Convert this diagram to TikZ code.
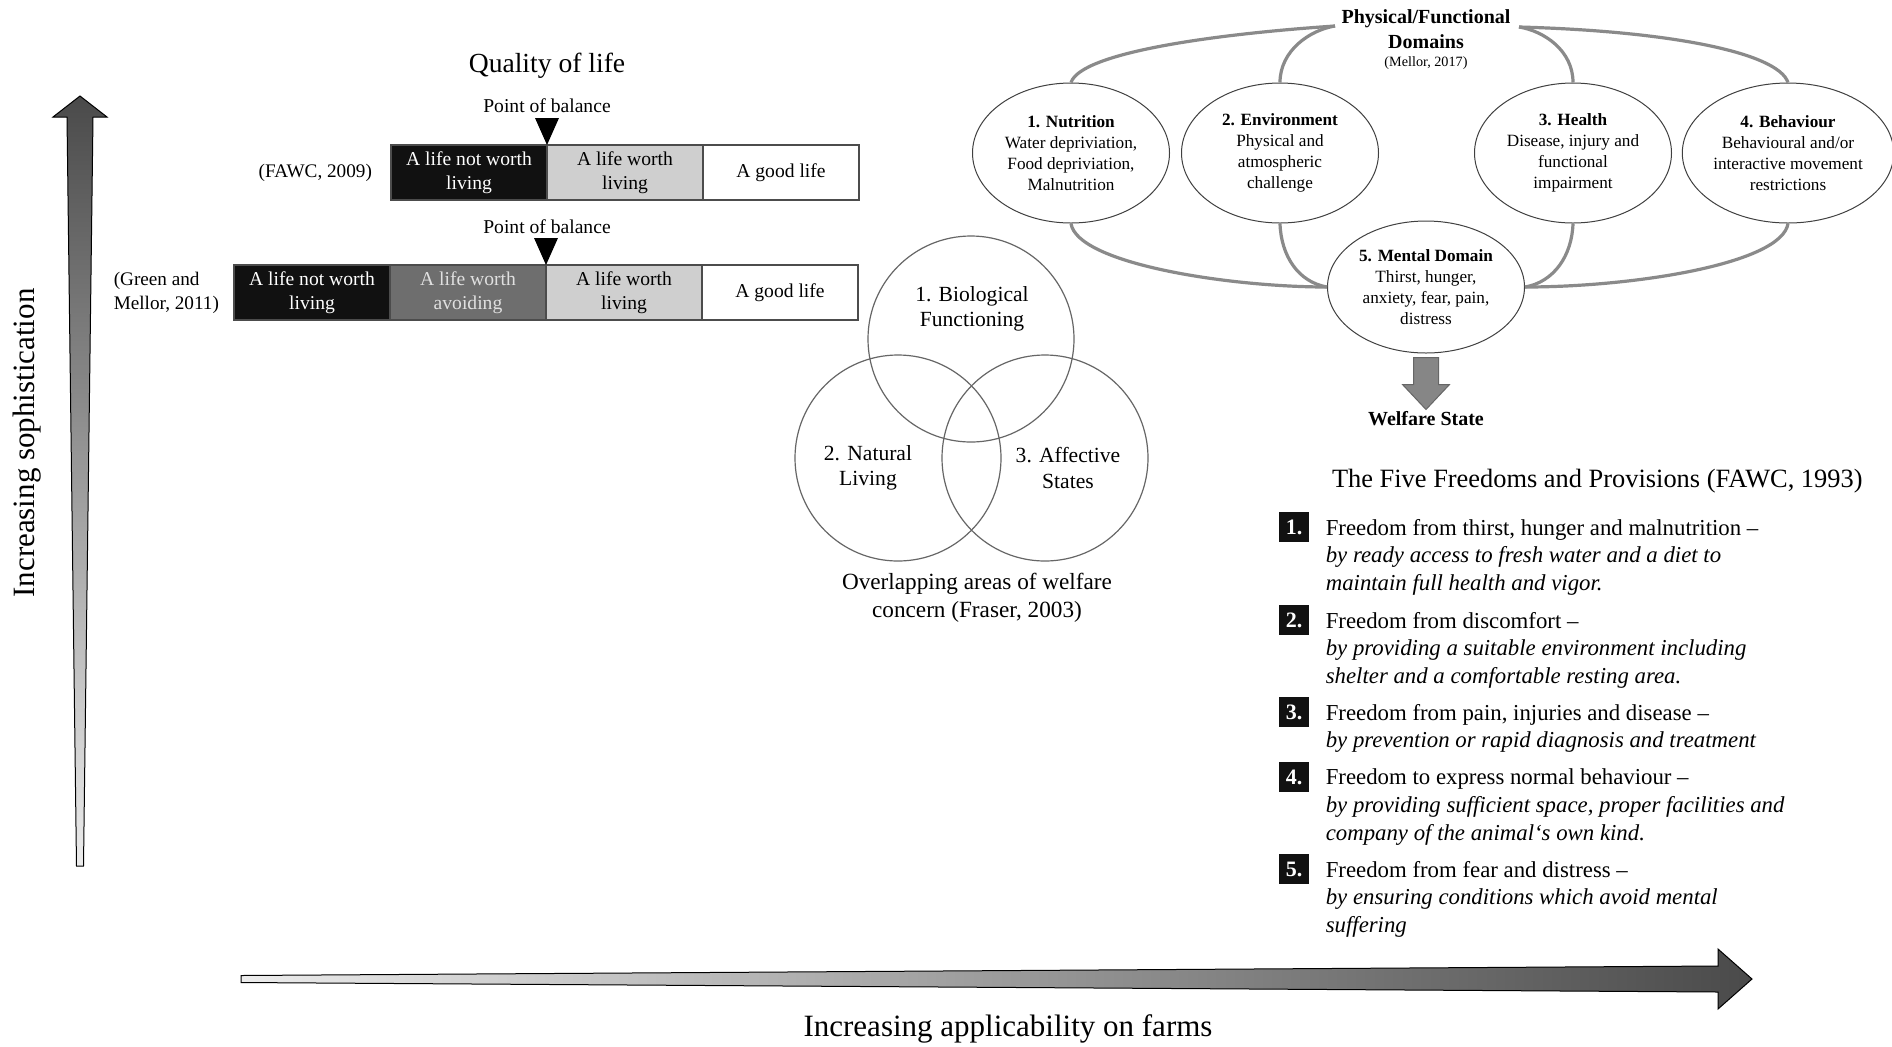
\documentclass[tikz,border=0pt]{standalone}
\usepackage{fontspec}
\setmainfont{Liberation Serif}
\usepackage{tikz}
\usetikzlibrary{positioning,shapes.geometric}

\definecolor{boxblack}{HTML}{111111}
\definecolor{boxdark}{HTML}{6E6E6E}
\definecolor{boxlight}{HTML}{CFCFCF}
\definecolor{curvegray}{HTML}{8A8A8A}
\definecolor{arrowdark}{HTML}{4A4A4A}
\definecolor{arrowlight}{HTML}{ECECEC}

\begin{document}
\begin{tikzpicture}[
    x=0.5pt, y=-0.5pt,
    lifebox/.style={draw=black!70, line width=0.6pt, minimum width=78pt,
      minimum height=27.5pt, inner sep=0pt, outer sep=0pt, align=center,
      font=\fontsize{9.8}{12}\selectfont},
    ref/.style={align=left, font=\fontsize{9.6}{12}\selectfont},
    balance/.style={font=\fontsize{9.8}{12}\selectfont},
    venn/.style={draw=black!60, line width=0.6pt, circle, minimum size=103pt, inner sep=0pt},
    vennlabel/.style={align=center, font=\fontsize{10.8}{12.8}\selectfont},
    welfaredomain/.style={draw=black!75, fill=white, line width=0.5pt, ellipse,
      minimum width=98.5pt, minimum height=70pt, inner sep=0pt, align=center,
      font=\fontsize{8.6}{10.5}\selectfont},
    link/.style={draw=curvegray, line width=1.6pt},
    numbox/.style={fill=boxblack, text=white, minimum size=15pt, inner sep=0pt,
      font=\fontsize{11}{13}\selectfont\bfseries},
    freedom/.style={anchor=north west, align=left, inner sep=0pt,
      font=\fontsize{11.4}{13.9}\selectfont},
    axis/.style={font=\fontsize{15.5}{18}\selectfont},
    >=latex
    ]
    \fill[white] (0,0) rectangle (1892,1046);
    \useasboundingbox (0,0) rectangle (1892,1046);

    % Axes
    \shadedraw[left color=arrowlight, right color=arrowdark, draw=black, line width=0.5pt]
      (241,975.5) -- (1718,966) -- (1718,949) -- (1752,979) -- (1718,1009)
      -- (1718,992) -- (241,982.5) -- cycle;
    \shadedraw[top color=arrowdark, bottom color=arrowlight, draw=black, line width=0.5pt]
      (76.5,866) -- (67,117) -- (53,117) -- (80,96) -- (107,117) -- (93,117)
      -- (83.5,866) -- cycle;
    \node[axis, rotate=90] (sophist) at (27,443) {Increasing sophistication};
    \node[axis] (applic) at (1008,1029) {Increasing applicability on farms};

    % Quality of life
    \node[font=\fontsize{13.8}{16}\selectfont] (qol) at (547,66) {Quality of life};
    \node[balance] (pob1) at (547,106) {Point of balance};
    \node[lifebox, fill=boxblack, text=white, anchor=north west] (a1) at (391,145) {A life not worth\\living};
    \node[lifebox, fill=boxlight, right=0pt of a1] (a2) {A life worth\\living};
    \node[lifebox, fill=white, right=0pt of a2] (a3) {A good life};
    \fill (a2.north west) -- ++(-6pt,13.5pt) -- ++(12pt,0pt) -- cycle;
    \node[ref, anchor=east] (fawc) at ([xshift=-6pt]a1.west) {(FAWC, 2009)};

    \node[balance] (pob2) at (547,227) {Point of balance};
    \node[lifebox, fill=boxblack, text=white, anchor=north west] (b1) at (234,265) {A life not worth\\living};
    \node[lifebox, fill=boxdark, text=black!12, right=0pt of b1] (b2) {A life worth\\avoiding};
    \node[lifebox, fill=boxlight, right=0pt of b2] (b3) {A life worth\\living};
    \node[lifebox, fill=white, right=0pt of b3] (b4) {A good life};
    \fill (b3.north west) -- ++(-6pt,13.5pt) -- ++(12pt,0pt) -- cycle;
    \node[ref, anchor=east] (green) at ([xshift=-4pt]b1.west) {(Green and\\Mellor, 2011)};

    % Overlapping areas
    \node[venn] (bio) at (971,339) {};
    \node[venn] (nat) at (898,458) {};
    \node[venn] (aff) at (1045,458) {};
    \node[vennlabel] (biolab) at (972,309) {1. Biological\\Functioning};
    \node[vennlabel] (natlab) at (868,468) {2. Natural\\Living};
    \node[vennlabel] (afflab) at (1068,468) {3. Affective\\States};
    \node[align=center, font=\fontsize{11.6}{14}\selectfont] (fraser) at (977,598)
      {Overlapping areas of welfare\\concern (Fraser, 2003)};

    % Domains
    \node[align=center, inner sep=0pt, font=\fontsize{10}{12.5}\selectfont\bfseries] (pfd) at (1426,29.5)
      {Physical/Functional\\Domains};
    \node[font=\fontsize{7.1}{9}\selectfont] (mellor) at (1426,63) {(Mellor, 2017)};
    \coordinate (tl) at (1335,26);
    \coordinate (tr) at (1519,27);

    \node[welfaredomain] (nut) at (1071,153) {\textbf{1. Nutrition}\\Water depriviation,\\Food depriviation,\\Malnutrition};
    \node[welfaredomain] (env) at (1280,153) {\textbf{2. Environment}\\Physical and\\atmospheric\\challenge};
    \node[welfaredomain] (hea) at (1573,153) {\textbf{3. Health}\\Disease, injury and\\functional\\impairment};
    \node[welfaredomain] (beh) at (1788,153) {\textbf{4. Behaviour}\\Behavioural and/or\\interactive movement\\restrictions};
    \node[welfaredomain, minimum height=66pt] (men) at (1426,287) {\textbf{5. Mental Domain}\\Thirst, hunger,\\anxiety, fear, pain,\\distress};

    % Links
    \draw[link] (tl) .. controls +(-60pt,-4pt) and +(5pt,15pt) .. (nut.north);
    \draw[link] (tl) .. controls +(-12.5pt,-2pt) and +(0pt,16pt) .. (env.north);
    \draw[link] (tr) .. controls +(12.5pt,-2pt) and +(0pt,16pt) .. (hea.north);
    \draw[link] (tr) .. controls +(75pt,-2pt) and +(-5pt,15pt) .. (beh.north);
    \draw[link] (nut.south) .. controls +(3pt,-20pt) and +(-49.5pt,0pt) .. (men.west);
    \draw[link] (env.south) .. controls +(0.5pt,-16pt) and +(-14.5pt,2.5pt) .. (men.west);
    \draw[link] (hea.south) .. controls +(-0.5pt,-16pt) and +(14.5pt,2.5pt) .. (men.east);
    \draw[link] (beh.south) .. controls +(-3pt,-20pt) and +(55pt,0pt) .. (men.east);

    \filldraw[fill=gray!95, draw=black!60, line width=0.5pt]
      ([xshift=-6.25pt,yshift=-2pt]men.south) -- ++(12.5pt,0pt) -- ++(0pt,-13.5pt)
      -- ++(5.5pt,0pt) -- ++(-11.75pt,-12.5pt) -- ++(-11.75pt,12.5pt) -- ++(5.5pt,0pt) -- cycle;
    \node[font=\fontsize{10}{12}\selectfont\bfseries] (ws) at (1426,419) {Welfare State};

    % Five freedoms
    \node[anchor=west, font=\fontsize{13.2}{16}\selectfont] (ffp) at (1325,481)
      {The Five Freedoms and Provisions (FAWC, 1993)};
    \foreach \i/\y in {1/527,2/620,3/712,4/777,5/869}
        \node[numbox] (n\i) at (1294,\y) {\i.};

    \node[freedom] (f1) at ([xshift=8pt,yshift=-3.5pt]n1.north east)
      {Freedom from thirst, hunger and malnutrition –\\
       \itshape by ready access to fresh water and a diet to\\
       \itshape maintain full health and vigor.};
    \node[freedom] (f2) at ([xshift=8pt,yshift=-3.5pt]n2.north east)
      {Freedom from discomfort –\\
       \itshape by providing a suitable environment including\\
       \itshape shelter and a comfortable resting area.};
    \node[freedom] (f3) at ([xshift=8pt,yshift=-3.5pt]n3.north east)
      {Freedom from pain, injuries and disease –\\
       \itshape by prevention or rapid diagnosis and treatment};
    \node[freedom] (f4) at ([xshift=8pt,yshift=-3.5pt]n4.north east)
      {Freedom to express normal behaviour –\\
       \itshape by providing sufficient space, proper facilities and\\
       \itshape company of the animal‘s own kind.};
    \node[freedom] (f5) at ([xshift=8pt,yshift=-3.5pt]n5.north east)
      {Freedom from fear and distress –\\
       \itshape by ensuring conditions which avoid mental\\
       \itshape suffering};
\end{tikzpicture}
\end{document}
